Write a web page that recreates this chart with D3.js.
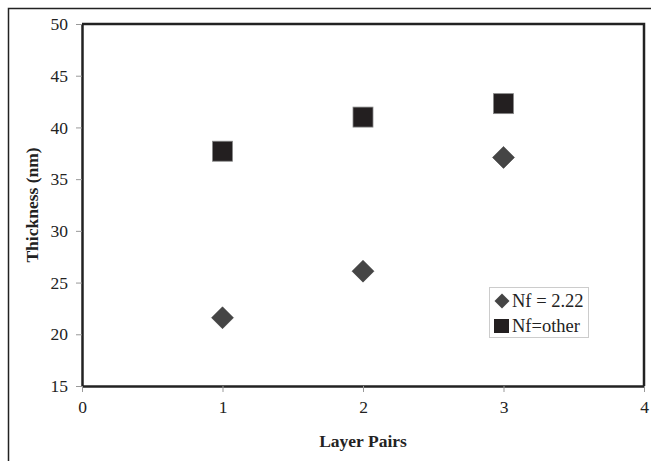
<!DOCTYPE html>
<html><head><meta charset="utf-8">
<script src="https://cdn.jsdelivr.net/npm/d3@7"></script>
<style>body{margin:0;background:#fff}svg{display:block}</style>
</head><body>
<svg id="c" width="651" height="461"></svg>
<script>
const layerPairs = [1, 2, 3];
const nf222 = [21.6, 26.1, 37.1];
const nfOther = [37.7, 41.0, 42.3];
const xTicks = [0, 1, 2, 3, 4];
const yTicks = [15, 20, 25, 30, 35, 40, 45, 50];
const seriesNames = ["Nf = 2.22", "Nf=other"];

const svg = d3.select("#c");
const L = 82, R = 644, T = 24, B = 386;
const x = d3.scaleLinear().domain([0, 4]).range([L, R]);
const y = d3.scaleLinear().domain([15, 50]).range([B, T]);
const serif = "'Liberation Serif','Times New Roman',serif";

// outer border (left and top visible)
svg.append("path").attr("d", "M8.5,461 V8.5 H651").attr("fill", "none").attr("stroke", "#222").attr("stroke-width", 1.5);

// plot frame top and right
svg.append("path").attr("d", `M${L},${T} H${R} V${B}`).attr("fill", "none").attr("stroke", "#222").attr("stroke-width", 2.5);

// y axis
const ya = svg.append("g").attr("transform", `translate(${L},0)`)
  .call(d3.axisLeft(y).tickValues(yTicks).tickFormat(d3.format("d")).tickSize(6).tickSizeOuter(0).tickPadding(8));
ya.select(".domain").attr("stroke", "#222").attr("stroke-width", 2.5);
ya.selectAll(".tick line").attr("stroke", "#999");
ya.selectAll(".tick text").attr("font-family", serif).attr("font-size", 17.5).attr("fill", "#222");

// x axis
const xa = svg.append("g").attr("transform", `translate(0,${B})`)
  .call(d3.axisBottom(x).tickValues(xTicks).tickFormat(d3.format("d")).tickSize(6).tickSizeOuter(0).tickPadding(9));
xa.select(".domain").attr("stroke", "#222").attr("stroke-width", 2.5);
xa.selectAll(".tick line").attr("stroke", "#999");
xa.selectAll(".tick text").attr("font-family", serif).attr("font-size", 17.5).attr("fill", "#222");

// titles
svg.append("text").attr("x", (L + R) / 2).attr("y", 447).attr("text-anchor", "middle")
  .attr("font-family", serif).attr("font-weight", "bold").attr("font-size", 17.5).attr("fill", "#222").text("Layer Pairs");
svg.append("text").attr("transform", `translate(38,${(T + B) / 2}) rotate(-90)`).attr("text-anchor", "middle")
  .attr("font-family", serif).attr("font-weight", "bold").attr("font-size", 17.5).attr("fill", "#222").text("Thickness (nm)");

function dPath(cx, cy, h) { return `M${cx},${cy - h} L${cx + h},${cy} L${cx},${cy + h} L${cx - h},${cy} Z`; }

// markers
svg.append("g").selectAll("path").data(layerPairs).join("path")
  .attr("d", (d, i) => dPath(x(d), y(nf222[i]), 11))
  .attr("fill", "#454545").attr("stroke", "#333").attr("stroke-width", 0.5);
svg.append("g").selectAll("rect").data(layerPairs).join("rect")
  .attr("x", (d) => x(d) - 10).attr("y", (d, i) => y(nfOther[i]) - 10)
  .attr("width", 20).attr("height", 20)
  .attr("fill", "#231f20").attr("stroke", "#888").attr("stroke-width", 0.8);

// legend
const lg = svg.append("g");
lg.append("rect").attr("x", 489.5).attr("y", 287.5).attr("width", 99).attr("height", 50)
  .attr("fill", "#fff").attr("stroke", "#ccc").attr("stroke-width", 1);
lg.append("path").attr("d", dPath(502, 301, 7.5)).attr("fill", "#454545");
lg.append("rect").attr("x", 494).attr("y", 319).attr("width", 15).attr("height", 14).attr("fill", "#231f20");
lg.selectAll("text").data(seriesNames).join("text")
  .attr("x", 512).attr("y", (d, i) => 307 + i * 25)
  .attr("font-family", serif).attr("font-size", 18.5).attr("fill", "#222").text(d => d);
</script>
</body></html>
